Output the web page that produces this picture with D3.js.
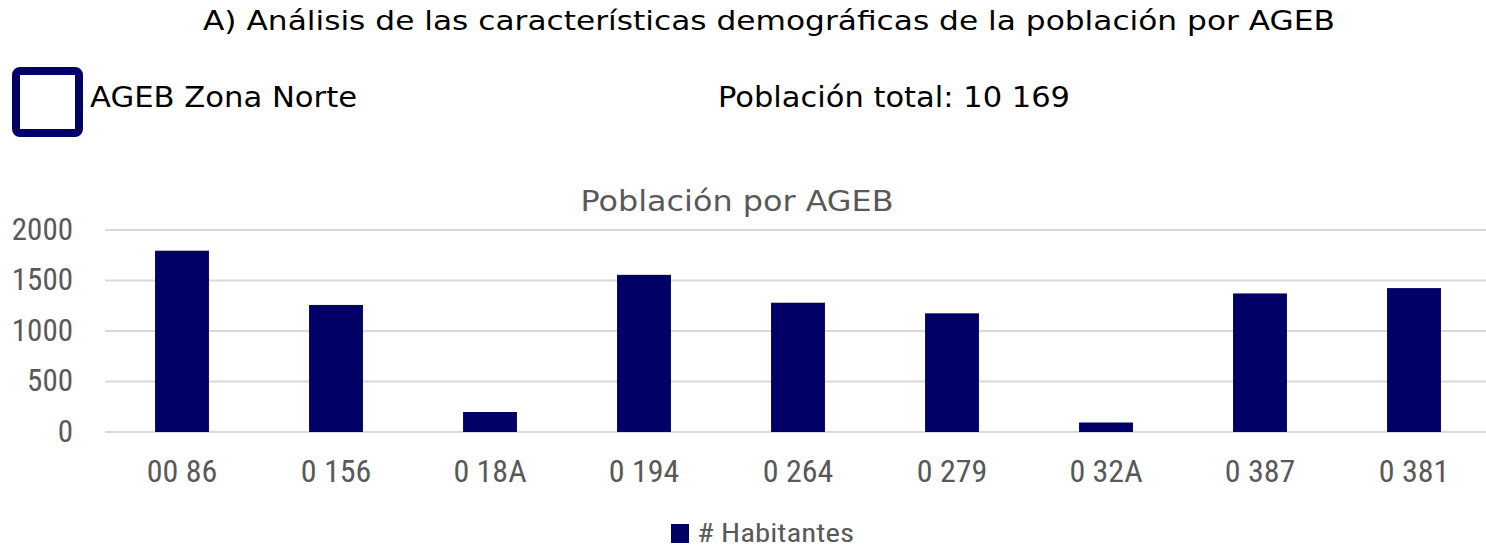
<!DOCTYPE html>
<html>
<head>
<meta charset="utf-8">
<script src="https://cdn.jsdelivr.net/npm/d3@7"></script>
<style>
  body { margin: 0; background: #fff; }
  svg { display: block; }
</style>
</head>
<body>
<svg id="chart" width="1486" height="548"></svg>
<script>
// values
const categories = ['00 86', '0 156', '0 18A', '0 194', '0 264', '0 279', '0 32A', '0 387', '0 381'];
const habitantes = [1795, 1258, 198, 1556, 1280, 1175, 94, 1372, 1425];
const yTicks = [0, 500, 1000, 1500, 2000];

const svg = d3.select('#chart');
const navy = '#000066';
const grey = '#595959';
const gothic = '"DejaVu Sans", sans-serif';
const narrow = '"Liberation Sans Narrow", "Roboto Condensed", "Liberation Sans", sans-serif';

// header
svg.append('text')
  .attr('x', 769).attr('y', 30)
  .attr('text-anchor', 'middle')
  .attr('font-family', gothic).attr('font-size', 27)
  .attr('textLength', 1132).attr('lengthAdjust', 'spacingAndGlyphs')
  .attr('fill', '#000')
  .text('A) Análisis de las características demográficas de la población por AGEB');

svg.append('rect')
  .attr('x', 16).attr('y', 71).attr('width', 63).attr('height', 62)
  .attr('rx', 4)
  .attr('fill', 'none').attr('stroke', navy).attr('stroke-width', 8);

svg.append('text')
  .attr('x', 90).attr('y', 107)
  .attr('font-family', gothic).attr('font-size', 29)
  .attr('textLength', 267).attr('lengthAdjust', 'spacingAndGlyphs')
  .text('AGEB Zona Norte');

svg.append('text')
  .attr('x', 718).attr('y', 107)
  .attr('font-family', gothic).attr('font-size', 29)
  .attr('textLength', 352).attr('lengthAdjust', 'spacingAndGlyphs')
  .text('Población total: 10 169');

// chart area
const x = d3.scaleBand()
  .domain(categories)
  .range([105, 1491])
  .paddingInner(0.65)
  .paddingOuter(0.325);

const y = d3.scaleLinear()
  .domain([0, 2000])
  .range([432, 230]);

svg.append('text')
  .attr('x', 737).attr('y', 211)
  .attr('text-anchor', 'middle')
  .attr('font-family', gothic).attr('font-size', 28)
  .attr('textLength', 313).attr('lengthAdjust', 'spacingAndGlyphs')
  .attr('fill', grey)
  .text('Población por AGEB');

// gridlines
svg.append('g')
  .selectAll('line')
  .data(yTicks)
  .enter().append('line')
  .attr('x1', 105).attr('x2', 1486)
  .attr('y1', d => y(d)).attr('y2', d => y(d))
  .attr('stroke', '#d9d9d9').attr('stroke-width', 2);

// y axis labels
const yAxis = svg.append('g')
  .attr('transform', 'translate(73,0)')
  .call(d3.axisLeft(y).tickValues(yTicks).tickSize(0).tickPadding(0).tickFormat(d3.format('d')));
yAxis.select('.domain').remove();
yAxis.selectAll('text')
  .attr('font-family', narrow).attr('font-size', 31)
  .attr('fill', grey).attr('dy', '0.3em');

// bars
svg.append('g')
  .selectAll('rect')
  .data(categories)
  .enter().append('rect')
  .attr('x', d => x(d))
  .attr('width', x.bandwidth())
  .attr('y', (d, i) => y(habitantes[i]))
  .attr('height', (d, i) => y(0) - y(habitantes[i]))
  .attr('fill', navy);

// x axis labels
const xAxis = svg.append('g')
  .attr('transform', 'translate(0,459)')
  .call(d3.axisBottom(x).tickSize(0).tickPadding(0));
xAxis.select('.domain').remove();
xAxis.selectAll('text')
  .attr('font-family', narrow).attr('font-size', 32)
  .attr('fill', grey).attr('dy', '0.71em');

// legend
svg.append('rect')
  .attr('x', 671).attr('y', 524).attr('width', 18).attr('height', 19)
  .attr('fill', navy);
svg.append('text')
  .attr('x', 697).attr('y', 542)
  .attr('font-family', narrow).attr('font-size', 26)
  .attr('textLength', 157).attr('lengthAdjust', 'spacingAndGlyphs')
  .attr('fill', grey)
  .text('# Habitantes');
</script>
</body>
</html>
